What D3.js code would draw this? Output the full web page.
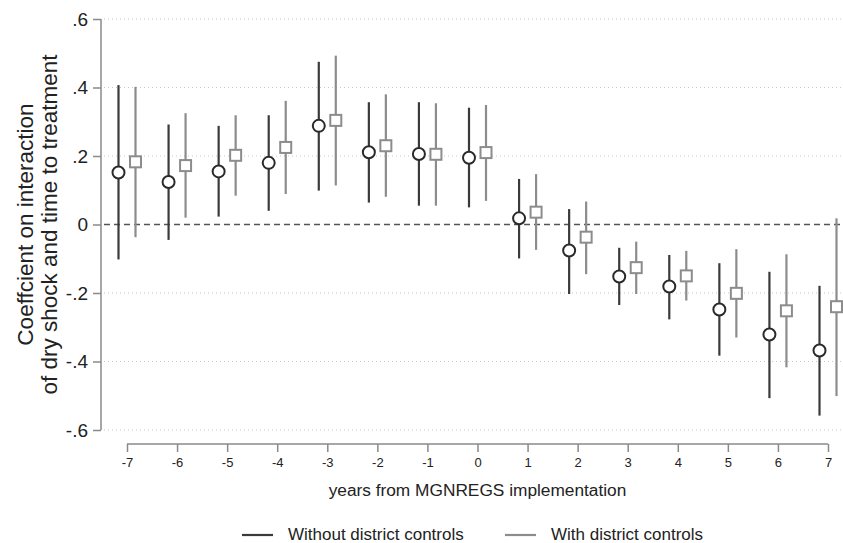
<!DOCTYPE html>
<html>
<head>
<meta charset="utf-8">
<script src="https://cdn.jsdelivr.net/npm/d3@7"></script>
<style>
  body { margin: 0; background: #fff; }
  text { font-family: "Liberation Sans", Arial, sans-serif; }
</style>
</head>
<body>
<div id="chart"></div>
<script>
// years from implementation
var years = [-7, -6, -5, -4, -3, -2, -1, 0, 1, 2, 3, 4, 5, 6, 7]

// without district controls
var noCtrlEst = [0.152, 0.124, 0.155, 0.180, 0.288, 0.211, 0.206, 0.195, 0.018, -0.076, -0.152, -0.181, -0.248, -0.321, -0.368]
var noCtrlLo = [-0.102, -0.045, 0.023, 0.040, 0.099, 0.064, 0.055, 0.050, -0.099, -0.203, -0.235, -0.277, -0.383, -0.507, -0.558]
var noCtrlHi = [0.407, 0.292, 0.288, 0.319, 0.475, 0.357, 0.357, 0.341, 0.133, 0.045, -0.068, -0.089, -0.113, -0.138, -0.179]

// with district controls
var ctrlEst = [0.183, 0.172, 0.202, 0.225, 0.304, 0.230, 0.205, 0.210, 0.036, -0.037, -0.126, -0.150, -0.201, -0.252, -0.240]
var ctrlLo = [-0.037, 0.020, 0.084, 0.089, 0.114, 0.081, 0.055, 0.069, -0.074, -0.145, -0.203, -0.222, -0.330, -0.417, -0.501]
var ctrlHi = [0.402, 0.325, 0.319, 0.361, 0.493, 0.380, 0.354, 0.349, 0.147, 0.067, -0.050, -0.077, -0.072, -0.087, 0.018]

var yTicks = [-0.6, -0.4, -0.2, 0, 0.2, 0.4, 0.6]
var yTickLabels = ["-.6", "-.4", "-.2", "0", ".2", ".4", ".6"]

var width = 843, height = 543

var svg = d3.select("#chart").append("svg")
    .attr("width", width)
    .attr("height", height)

var x = d3.scaleLinear().domain([-7, 7]).range([127, 828])
var y = d3.scaleLinear().domain([-0.6, 0.6]).range([430, 19])

var axisColor = "#8a8a8a"

// grid lines
svg.append("g")
    .selectAll("line")
    .data(yTicks.filter(function (d) { return d != 0 }))
    .enter().append("line")
    .attr("x1", 104).attr("x2", 843)
    .attr("y1", function (d) { return y(d) }).attr("y2", function (d) { return y(d) })
    .attr("stroke", "#c8c8c8").attr("stroke-width", 1)
    .attr("stroke-dasharray", "1,3")

// zero reference line
svg.append("line")
    .attr("x1", 104).attr("x2", 843)
    .attr("y1", y(0)).attr("y2", y(0))
    .attr("stroke", "#555").attr("stroke-width", 1.3)
    .attr("stroke-dasharray", "6,4")

// Y axis
var yAxis = svg.append("g")
    .attr("transform", "translate(101,0)")
    .call(d3.axisLeft(y).tickValues(yTicks).tickSize(8).tickPadding(5)
        .tickFormat(function (d, i) { return yTickLabels[i] }))
yAxis.select(".domain").attr("stroke", axisColor).attr("stroke-width", 1.5)
    .attr("d", "M0," + y(-0.6) + "V" + y(0.6))
yAxis.selectAll(".tick line").attr("stroke", axisColor).attr("stroke-width", 1.5)
yAxis.selectAll(".tick text").attr("font-size", 19).attr("fill", "#222")
    .attr("font-family", "Liberation Sans, Arial, sans-serif")

// X axis
var xAxis = svg.append("g")
    .attr("transform", "translate(0,444)")
    .call(d3.axisBottom(x).tickValues(years).tickSize(8).tickPadding(6)
        .tickFormat(d3.format("d")))
xAxis.select(".domain").attr("stroke", axisColor).attr("stroke-width", 1.5)
    .attr("d", "M" + x(-7) + ",0H" + x(7))
xAxis.selectAll(".tick line").attr("stroke", axisColor).attr("stroke-width", 1.5)
xAxis.selectAll(".tick text").attr("font-size", 13).attr("fill", "#222")
    .attr("font-family", "Liberation Sans, Arial, sans-serif")
    .text(function (d) { return d < 0 ? "-" + Math.abs(d) : d })

// axis titles
svg.append("text")
    .attr("x", x(0)).attr("y", 496)
    .attr("text-anchor", "middle")
    .attr("font-size", 17.3).attr("fill", "#222")
    .text("years from MGNREGS implementation")

var yTitle = svg.append("text")
    .attr("transform", "translate(0," + y(0) + ") rotate(-90)")
    .attr("text-anchor", "middle")
    .attr("font-size", 22.5).attr("fill", "#222")
yTitle.append("tspan").attr("x", 0).attr("y", 33).text("Coeffcient on interaction")
yTitle.append("tspan").attr("x", 0).attr("y", 57).text("of dry shock and time to treatment")

// series
var series = [
    { name: "Without district controls", est: noCtrlEst, lo: noCtrlLo, hi: noCtrlHi, dx: -8.5, color: "#3a3a3a", marker: "circle" },
    { name: "With district controls", est: ctrlEst, lo: ctrlLo, hi: ctrlHi, dx: 8.5, color: "#8c8c8c", marker: "square" }
]

series.forEach(function (s) {
    var rows = years.map(function (yr, i) { return { yr: yr, est: s.est[i], lo: s.lo[i], hi: s.hi[i] } })
    var g = svg.append("g")

    g.selectAll("line")
        .data(rows)
        .enter().append("line")
        .attr("x1", function (d) { return x(d.yr) + s.dx })
        .attr("x2", function (d) { return x(d.yr) + s.dx })
        .attr("y1", function (d) { return y(d.lo) })
        .attr("y2", function (d) { return y(d.hi) })
        .attr("stroke", s.color).attr("stroke-width", 2.2)

    if (s.marker == "circle") {
        g.selectAll("circle")
            .data(rows)
            .enter().append("circle")
            .attr("cx", function (d) { return x(d.yr) + s.dx })
            .attr("cy", function (d) { return y(d.est) })
            .attr("r", 6)
            .attr("fill", "#fff").attr("stroke", "#2a2a2a").attr("stroke-width", 2)
    } else {
        g.selectAll("rect")
            .data(rows)
            .enter().append("rect")
            .attr("x", function (d) { return x(d.yr) + s.dx - 5.5 })
            .attr("y", function (d) { return y(d.est) - 5.5 })
            .attr("width", 11).attr("height", 11)
            .attr("fill", "#fff").attr("stroke", "#8c8c8c").attr("stroke-width", 2)
    }
})

// legend
var legendX = [242, 505]
series.forEach(function (s, i) {
    svg.append("line")
        .attr("x1", legendX[i]).attr("x2", legendX[i] + 31)
        .attr("y1", 535).attr("y2", 535)
        .attr("stroke", s.color).attr("stroke-width", 2.2)
    svg.append("text")
        .attr("x", legendX[i] + 46).attr("y", 540)
        .attr("font-size", 17).attr("fill", "#222")
        .text(s.name)
})
</script>
</body>
</html>
